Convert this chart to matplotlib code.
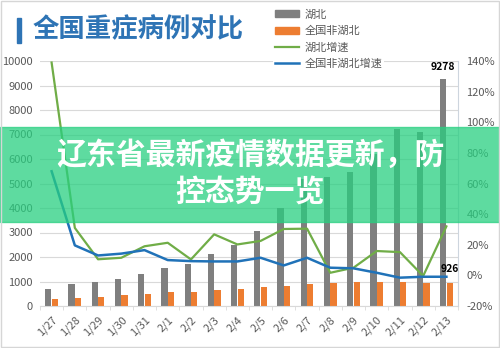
import numpy as np
import matplotlib.pyplot as plt
from matplotlib.patches import Rectangle, Patch
from matplotlib.lines import Line2D
from matplotlib.ticker import FuncFormatter, FixedLocator

plt.rcParams['font.family'] = ['Noto Sans CJK SC', 'DejaVu Sans']

# 全国重症病例 数据
dates = ['1/27', '1/28', '1/29', '1/30', '1/31', '2/1', '2/2', '2/3', '2/4',
         '2/5', '2/6', '2/7', '2/8', '2/9', '2/10', '2/11', '2/12', '2/13']
hubei = [680, 885, 990, 1100, 1295, 1560, 1720, 2140, 2500,
         3060, 3990, 5200, 5250, 5480, 6200, 7224, 7090, 9278]
non_hubei = [273, 335, 367, 430, 500, 555, 588, 650, 707,
             770, 830, 900, 952, 990, 995, 966, 952, 926]
hubei_rate = [139, 31, 10.5, 11.5, 19, 21.3, 10.4, 26.8, 20.2,
              22.5, 30.3, 30.5, 1.7, 5, 15.9, 15.2, -0.4, 32]
non_hubei_rate = [68, 19.6, 13, 14.2, 16.5, 10, 9.3, 9.1, 9.1,
                  11.5, 6.5, 11.5, 5, 4.6, 1.7, -1.5, -0.9, -0.9]

c_gray = '#7f7f7f'
c_orange = '#ed7d31'
c_green = '#70ad47'
c_blue = '#2072b8'
c_text = '#595959'

fig = plt.figure(figsize=(5, 3.48), dpi=100)
fig.set_facecolor('white')

ax = fig.add_axes([0.08, 42 / 348, 0.836, 245 / 348])
x = np.arange(len(dates))
w = 0.27
ax.bar(x - 0.14, hubei, width=w, color=c_gray, zorder=2)
ax.bar(x + 0.14, non_hubei, width=w, color=c_orange, zorder=2)

ax.set_xlim(-0.5, len(dates) - 0.5)
ax.set_ylim(0, 10000)
ax.set_yticks(np.arange(0, 10001, 1000))
ax.grid(True, axis='y', color='#d9d9d9', linewidth=0.8, zorder=0)
ax.set_xticks(x)
ax.set_xticklabels(dates, rotation=45, ha='right', rotation_mode='anchor')
ax.xaxis.set_minor_locator(FixedLocator(np.arange(-0.5, len(dates), 1)))
ax.tick_params(axis='x', which='major', length=0, pad=6, labelsize=8, labelcolor=c_text)
ax.tick_params(axis='x', which='minor', length=3, color='#d9d9d9')
ax.tick_params(axis='y', length=0, labelsize=8, labelcolor=c_text, pad=5)
for s in ['top', 'left', 'right']:
    ax.spines[s].set_visible(False)
ax.spines['bottom'].set_color('#d9d9d9')

# 数据标签
ax.annotate(str(hubei[-1]), (x[-1] - 0.14, hubei[-1]), xytext=(0, 5),
            textcoords='offset points', ha='center', va='bottom',
            fontsize=7.5, fontweight='bold', color='black', zorder=5)
ax.annotate(str(non_hubei[-1]), (x[-1] + 0.14, non_hubei[-1]), xytext=(0, 7),
            textcoords='offset points', ha='center', va='bottom',
            fontsize=7.5, fontweight='bold', color='black', zorder=5)

# 增速 (右轴)
ax2 = ax.twinx()
ax2.plot(x, hubei_rate, color=c_green, linewidth=1.6)
ax2.plot(x, non_hubei_rate, color=c_blue, linewidth=1.8)
ax2.set_ylim(-20, 140)
ax2.set_yticks(np.arange(-20, 141, 20))
ax2.yaxis.set_major_formatter(FuncFormatter(lambda v, p: '%d%%' % v))
ax2.tick_params(axis='y', length=0, labelsize=8, labelcolor=c_text, pad=6)
for s in ['top', 'left', 'bottom']:
    ax2.spines[s].set_visible(False)
ax2.spines['right'].set_color('#cdd5de')

# 图例
handles = [Patch(color=c_gray), Patch(color=c_orange),
           Line2D([], [], color=c_green, linewidth=1.6),
           Line2D([], [], color=c_blue, linewidth=1.8)]
labels = ['湖北', '全国非湖北', '湖北增速', '全国非湖北增速']
leg = fig.legend(handles, labels, loc='upper left', bbox_to_anchor=(0.546, 0.978),
                 frameon=True, facecolor='white', edgecolor='none', framealpha=1,
                 fontsize=8, handlelength=2.2, handleheight=0.6, handletextpad=0.5,
                 labelspacing=0.55, borderpad=0.15, borderaxespad=0)
for t in leg.get_texts():
    t.set_color(c_text)

# 标题
fig.patches.append(Rectangle((17 / 500, 1 - 43 / 348), 3.5 / 500, 25 / 348,
                             transform=fig.transFigure, color='#2e74b5'))
fig.text(33 / 500, 1 - 30 / 348, '全国重症病例对比', fontsize=19,
         fontweight='bold', color='#2e74b5', va='center', ha='left')

# 绿色横幅
fig.patches.append(Rectangle((0, 1 - 222 / 348), 1, 95 / 348, transform=fig.transFigure,
                             color=(40 / 255, 207 / 255, 128 / 255), alpha=0.75, zorder=3))
fig.text(0.5, 1 - 155 / 348, '辽东省最新疫情数据更新，防', fontsize=21.5, fontweight='bold',
         color='white', ha='center', va='center', zorder=4)
fig.text(0.5, 1 - 192 / 348, '控态势一览', fontsize=21.5, fontweight='bold',
         color='white', ha='center', va='center', zorder=4)

# 外框
fig.patches.append(Rectangle((0.002, 0.004), 0.996, 0.992, transform=fig.transFigure,
                             fill=False, edgecolor='#d6d6d6', linewidth=1, zorder=6))

fig.savefig('out.png', dpi=100)
